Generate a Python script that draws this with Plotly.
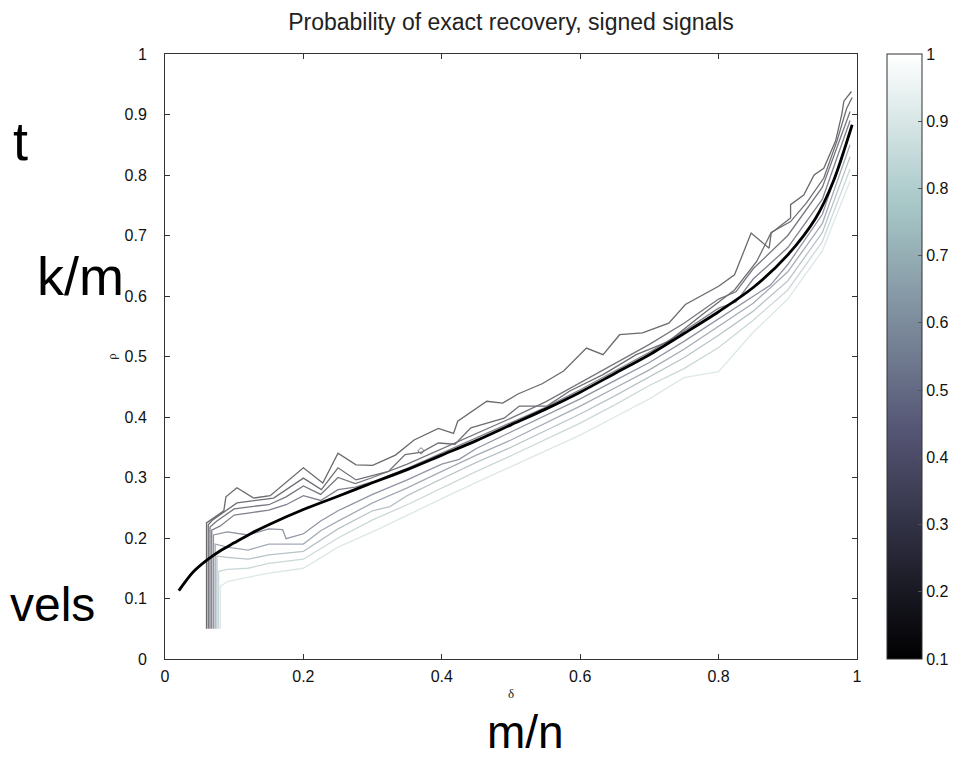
import plotly.graph_objects as go

# ---------------- data ----------------
# theoretical phase-transition curve (thick black)
curve_delta = [0.02, 0.04, 0.06, 0.08, 0.10, 0.125, 0.15, 0.20, 0.25, 0.29, 0.35, 0.40, 0.45, 0.50,
               0.55, 0.60, 0.65, 0.70, 0.75, 0.80, 0.85, 0.90, 0.94, 0.966, 0.993]
curve_rho = [0.113, 0.143, 0.163, 0.179, 0.192, 0.208, 0.222, 0.247, 0.269, 0.287, 0.313, 0.337,
             0.361, 0.387, 0.413, 0.441, 0.472, 0.503, 0.538, 0.574, 0.614, 0.668, 0.728, 0.790, 0.883]

# empirical contour levels of probability of exact recovery
levels = [0.1, 0.2, 0.3, 0.4, 0.5, 0.6, 0.7, 0.8, 0.9]

c1_delta = [0.060, 0.060, 0.085, 0.088, 0.104, 0.128, 0.152, 0.200, 0.228, 0.250, 0.276, 0.300,
            0.333, 0.360, 0.395, 0.417, 0.423, 0.465, 0.488, 0.510, 0.545, 0.576, 0.609, 0.633,
            0.657, 0.690, 0.728, 0.752, 0.800, 0.823, 0.847, 0.873, 0.876, 0.904, 0.904, 0.923,
            0.938, 0.952, 0.969, 0.978, 0.981, 0.992]
c1_rho = [0.050, 0.225, 0.245, 0.268, 0.283, 0.266, 0.270, 0.316, 0.291, 0.340, 0.321, 0.320,
          0.337, 0.362, 0.381, 0.373, 0.393, 0.426, 0.423, 0.438, 0.455, 0.476, 0.514, 0.503,
          0.536, 0.539, 0.555, 0.586, 0.616, 0.635, 0.704, 0.679, 0.704, 0.729, 0.751, 0.767,
          0.800, 0.811, 0.856, 0.900, 0.922, 0.938]

c2_delta = [0.0625, 0.0625, 0.069, 0.104, 0.157, 0.200, 0.226, 0.250, 0.276, 0.323, 0.347,
            0.371, 0.395, 0.419, 0.442, 0.490, 0.512, 0.552, 0.585, 0.633, 0.681, 0.728, 0.776,
            0.823, 0.855, 0.876, 0.904, 0.927, 0.952, 0.971, 0.985, 0.993]
c2_rho = [0.050, 0.222, 0.230, 0.258, 0.266, 0.299, 0.280, 0.316, 0.296, 0.310, 0.338,
          0.342, 0.357, 0.355, 0.382, 0.398, 0.418, 0.418, 0.443, 0.470, 0.503, 0.525, 0.569,
          0.610, 0.657, 0.705, 0.723, 0.754, 0.795, 0.856, 0.910, 0.928]

c3_delta = [0.065, 0.065, 0.075, 0.100, 0.125, 0.150, 0.175, 0.200, 0.225, 0.250, 0.275, 0.300,
            0.350, 0.400, 0.450, 0.500, 0.550, 0.600, 0.650, 0.700, 0.750, 0.800, 0.825, 0.850,
            0.900, 0.950, 0.990]
c3_rho = [0.050, 0.218, 0.228, 0.248, 0.252, 0.255, 0.268, 0.286, 0.272, 0.300, 0.290, 0.300,
          0.322, 0.347, 0.373, 0.398, 0.425, 0.457, 0.488, 0.520, 0.555, 0.595, 0.607, 0.645,
          0.700, 0.780, 0.905]

c4_delta = [0.0675, 0.0675, 0.080, 0.100, 0.125, 0.150, 0.175, 0.200, 0.225, 0.250, 0.275, 0.300,
            0.350, 0.400, 0.450, 0.500, 0.550, 0.600, 0.650, 0.700, 0.750, 0.800, 0.825, 0.850,
            0.900, 0.950, 0.990]
c4_rho = [0.050, 0.213, 0.220, 0.238, 0.242, 0.246, 0.255, 0.270, 0.262, 0.280, 0.284, 0.293,
          0.315, 0.340, 0.365, 0.390, 0.416, 0.445, 0.476, 0.507, 0.542, 0.580, 0.590, 0.628,
          0.680, 0.760, 0.890]

c5_delta = [0.070, 0.070, 0.090, 0.120, 0.150, 0.170, 0.175, 0.200, 0.225, 0.250, 0.300, 0.350,
            0.400, 0.425, 0.450, 0.500, 0.550, 0.600, 0.650, 0.700, 0.750, 0.800, 0.850, 0.875,
            0.900, 0.950, 0.990]
c5_rho = [0.050, 0.205, 0.210, 0.205, 0.215, 0.214, 0.199, 0.207, 0.228, 0.245, 0.272, 0.296,
          0.322, 0.330, 0.348, 0.375, 0.402, 0.430, 0.460, 0.490, 0.525, 0.562, 0.600, 0.618,
          0.652, 0.735, 0.870]

c6_delta = [0.0725, 0.0725, 0.090, 0.120, 0.150, 0.200, 0.225, 0.250, 0.300, 0.350, 0.400, 0.450,
            0.500, 0.550, 0.600, 0.650, 0.700, 0.750, 0.800, 0.850, 0.900, 0.950, 0.990]
c6_rho = [0.050, 0.190, 0.185, 0.180, 0.190, 0.190, 0.212, 0.228, 0.258, 0.283, 0.310, 0.337,
          0.362, 0.390, 0.418, 0.448, 0.478, 0.512, 0.550, 0.588, 0.640, 0.720, 0.850]

c7_delta = [0.075, 0.075, 0.090, 0.120, 0.150, 0.200, 0.250, 0.300, 0.325, 0.350, 0.400, 0.450,
            0.500, 0.550, 0.600, 0.650, 0.700, 0.750, 0.800, 0.850, 0.900, 0.950, 0.990]
c7_rho = [0.050, 0.170, 0.168, 0.165, 0.172, 0.178, 0.215, 0.245, 0.252, 0.270, 0.298, 0.325,
          0.350, 0.378, 0.405, 0.435, 0.466, 0.498, 0.535, 0.575, 0.625, 0.705, 0.830]

c8_delta = [0.0775, 0.0775, 0.090, 0.120, 0.150, 0.200, 0.250, 0.300, 0.350, 0.400, 0.450, 0.500,
            0.550, 0.600, 0.650, 0.700, 0.750, 0.800, 0.850, 0.900, 0.950, 0.990]
c8_rho = [0.050, 0.145, 0.148, 0.150, 0.158, 0.165, 0.200, 0.230, 0.255, 0.283, 0.310, 0.336,
          0.363, 0.390, 0.420, 0.452, 0.480, 0.515, 0.560, 0.610, 0.690, 0.810]

c9_delta = [0.080, 0.080, 0.090, 0.120, 0.150, 0.200, 0.250, 0.300, 0.350, 0.400, 0.450, 0.500,
            0.550, 0.600, 0.650, 0.700, 0.750, 0.800, 0.850, 0.900, 0.950, 0.990]
c9_rho = [0.050, 0.120, 0.128, 0.135, 0.142, 0.150, 0.185, 0.210, 0.238, 0.265, 0.292, 0.318,
          0.345, 0.370, 0.400, 0.430, 0.465, 0.475, 0.540, 0.595, 0.675, 0.790]

# tiny closed contour (isolated island)
island_delta = [0.370]
island_rho = [0.344]

x_ticks = [0, 0.2, 0.4, 0.6, 0.8, 1]
x_ticklabels = ["0", "0.2", "0.4", "0.6", "0.8", "1"]
y_ticks = [0, 0.1, 0.2, 0.3, 0.4, 0.5, 0.6, 0.7, 0.8, 0.9, 1]
y_ticklabels = ["0", "0.1", "0.2", "0.3", "0.4", "0.5", "0.6", "0.7", "0.8", "0.9", "1"]
cbar_ticks = [0.1, 0.2, 0.3, 0.4, 0.5, 0.6, 0.7, 0.8, 0.9, 1]
cbar_ticklabels = ["0.1", "0.2", "0.3", "0.4", "0.5", "0.6", "0.7", "0.8", "0.9", "1"]

# ---------------- styling ----------------
bone = [[0.0, "rgb(0,0,1)"], [0.375, "rgb(84,84,116)"],
        [0.75, "rgb(167,199,199)"], [1.0, "rgb(255,255,255)"]]
line_colors = ["#6a6a6a", "#6e6e75", "#76767f", "#80818f", "#9094a3",
               "#a4abb5", "#b8c3c6", "#cbd8d9", "#dde7e8"]

all_delta = [c1_delta, c2_delta, c3_delta, c4_delta, c5_delta, c6_delta, c7_delta, c8_delta, c9_delta]
all_rho = [c1_rho, c2_rho, c3_rho, c4_rho, c5_rho, c6_rho, c7_rho, c8_rho, c9_rho]

fig = go.Figure()

# draw lighter levels first so darker ones sit on top
for lev, xs, ys, col in reversed(list(zip(levels, all_delta, all_rho, line_colors))):
    fig.add_trace(go.Scatter(x=xs, y=ys, mode="lines", name=f"P={lev}",
                             line=dict(color=col, width=1.3),
                             hoverinfo="skip", showlegend=False))

fig.add_trace(go.Scatter(x=island_delta, y=island_rho, mode="markers",
                         marker=dict(symbol="diamond-open", size=5, color="#777777",
                                     line=dict(width=1, color="#777777")),
                         hoverinfo="skip", showlegend=False))

fig.add_trace(go.Scatter(x=curve_delta, y=curve_rho, mode="lines",
                         line=dict(color="black", width=2.8, shape="spline", smoothing=0.8),
                         hoverinfo="skip", showlegend=False))

# colorbar carrier (point outside visible range)
fig.add_trace(go.Scatter(x=[-1], y=[-1], mode="markers", hoverinfo="skip", showlegend=False,
                         marker=dict(color=[0.1], cmin=0.1, cmax=1.0, colorscale=bone, size=1,
                                     showscale=True,
                                     colorbar=dict(x=1.044, xanchor="left", xref="paper",
                                                   y=0.5, yanchor="middle",
                                                   len=605, lenmode="pixels",
                                                   thickness=35, thicknessmode="pixels",
                                                   outlinewidth=1, outlinecolor="#333333",
                                                   tickvals=cbar_ticks, ticktext=cbar_ticklabels,
                                                   ticks="inside", ticklen=4, tickcolor="#555555",
                                                   tickfont=dict(size=16, color="#111111"),
                                                   ypad=0, xpad=0))))

axis_common = dict(range=[0, 1], showgrid=False, zeroline=False, showline=True,
                   linecolor="#333333", linewidth=1, mirror="ticks", ticks="inside",
                   ticklen=5, tickcolor="#333333", tickfont=dict(size=16, color="#111111"))

fig.update_layout(
    width=958, height=757,
    margin=dict(l=157, r=101, t=46, b=106),
    paper_bgcolor="white", plot_bgcolor="white",
    font=dict(family="Liberation Sans, Arial, sans-serif", color="#222222"),
    title=dict(text="Probability of exact recovery, signed signals",
               x=0.5, xref="paper", xanchor="center",
               y=1 - 14 / 757, yref="container", yanchor="middle",
               font=dict(size=23, color="#222222")),
    xaxis=dict(**axis_common, tickvals=x_ticks, ticktext=x_ticklabels,
               ticklabelstandoff=3,
               title=dict(text="δ", standoff=4,
                          font=dict(family="Liberation Serif, serif", size=13, color="#222222"))),
    yaxis=dict(**axis_common, tickvals=y_ticks, ticktext=y_ticklabels,
               ticklabelstandoff=14,
               title=dict(text="ρ", standoff=4,
                          font=dict(family="Liberation Serif, serif", size=13, color="#222222"))),
    annotations=[
        dict(text="t", xref="paper", yref="paper", x=(20 - 157) / 700, y=(651 - 133) / 605,
             xanchor="right", yanchor="middle", showarrow=False,
             font=dict(size=54, color="black")),
        dict(text="k/m", xref="paper", yref="paper", x=(118 - 157) / 700, y=(651 - 268) / 605,
             xanchor="right", yanchor="middle", showarrow=False,
             font=dict(size=54, color="black")),
        dict(text="vels", xref="paper", yref="paper", x=(88 - 157) / 700, y=(651 - 596) / 605,
             xanchor="right", yanchor="middle", showarrow=False,
             font=dict(size=48, color="black")),
        dict(text="m/n", xref="paper", yref="paper", x=(522 - 157) / 700, y=(651 - 724) / 605,
             xanchor="center", yanchor="middle", showarrow=False,
             font=dict(family="Liberation Sans Narrow, Liberation Sans, Arial", size=46,
                       color="black")),
    ],
)

fig.write_html("out.html")
